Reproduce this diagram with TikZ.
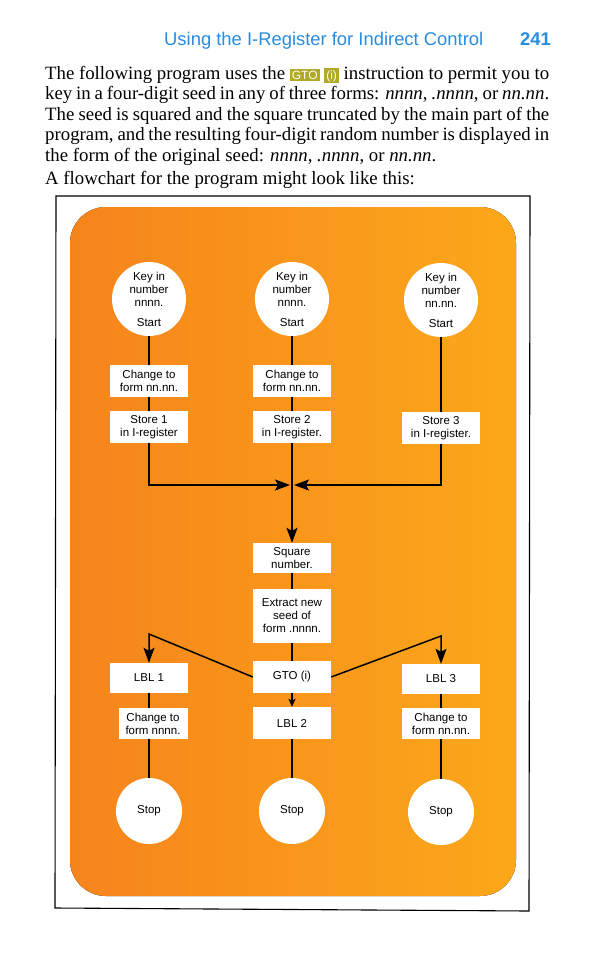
\documentclass[tikz,border=0pt]{standalone}
\usepackage{fontspec}
\setmainfont{Liberation Serif}
\setsansfont{Liberation Sans}
\usetikzlibrary{arrows.meta, positioning, calc}
\definecolor{hdblue}{RGB}{40,140,225}
\definecolor{keyolive}{RGB}{176,170,40}
\definecolor{orL}{RGB}{246,132,28}
\definecolor{orR}{RGB}{252,168,26}
\tikzset{
  sta/.style={circle, fill=white, minimum size=74pt, inner sep=0pt, align=center, font=\sffamily\fontsize{11.5}{13}\selectfont},
  stp/.style={sta, minimum size=66pt},
  prc/.style={fill=white, minimum width=78pt, minimum height=32pt, inner sep=0pt, align=center, font=\sffamily\fontsize{11.5}{13}\selectfont},
  lin/.style={line width=1.5pt},
  tra/.style={lin, -{Stealth[length=15pt, width=11pt, inset=3pt]}},
  trs/.style={lin, -{Stealth[length=8pt, width=7pt, inset=2pt]}},
  ln/.style={inner sep=0pt, anchor=base west, font=\fontsize{18.8}{21}\selectfont}
}
\newcommand{\hpkey}[1]{{\setlength{\fboxsep}{2pt}\colorbox{keyolive}{\textcolor{white}{\sffamily\fontsize{12}{12}\selectfont #1}}}}
\newcommand{\jline}[1]{\makebox[504pt][s]{#1}}

\begin{document}
\begin{tikzpicture}[x=1pt, y=-1pt]
	\useasboundingbox (0,0) rectangle (593,956);
	% running head and text
	\node[ln, text=hdblue, font=\sffamily\fontsize{18.4}{20}\selectfont] (head) at (164,45) {Using the I-Register for Indirect Control};
	\node[ln, anchor=base east, text=hdblue, font=\sffamily\bfseries\fontsize{18.4}{20}\selectfont] (page) at (551,45) {241};
	\node[ln] (t1) at (45,79) {\jline{The following program uses the \hpkey{GTO} \hpkey{(i)} instruction to permit you to}};
	\node[ln] (t2) at (45,99) {\jline{key in a four-digit seed in any of three forms: \textit{nnnn}, \textit{.nnnn}, or \textit{nn.nn}.}};
	\node[ln] (t3) at (45,120) {\jline{The seed is squared and the square truncated by the main part of the}};
	\node[ln] (t4) at (45,140) {\jline{program, and the resulting four-digit random number is displayed in}};
	\node[ln] (t5) at (45,161) {the form of the original seed: \textit{nnnn}, \textit{.nnnn}, or \textit{nn.nn}.};
	\node[ln] (t6) at (45,184) {A flowchart for the program might look like this:};
	% frame and panel
	\draw[line width=1.1pt] (56,196) -- (530,196) -- (529,911) -- (55,908) -- cycle;
	\fill[left color=orL, right color=orR, rounded corners=36pt] (70,207) rectangle (516,896);
	% nodes
	\node[sta] (kyL) at (149,299) {Key in\\number\\nnnn.\\[7pt]Start};
	\node[sta] (kyM) at (292,299) {Key in\\number\\nnnn.\\[7pt]Start};
	\node[sta] (kyR) at (441,300) {Key in\\number\\nn.nn.\\[7pt]Start};
	\node[prc] (chL) at (149,381) {Change to\\form nn.nn.};
	\node[prc] (chM) at (292,381) {Change to\\form nn.nn.};
	\node[prc] (stL) at (149,427) {Store 1\\in I-register};
	\node[prc] (stM) at (292,427) {Store 2\\in I-register.};
	\node[prc] (stR) at (441,428) {Store 3\\in I-register.};
	\coordinate (jn) at (292,485);
	\node[prc, minimum height=30pt] (sq) at (292,558) {Square\\number.};
	\node[prc, minimum height=54pt] (ex) at (292,616) {Extract new\\seed of\\form .nnnn.};
	\node[prc, minimum height=30pt] (lbA) at (149,678) {LBL 1};
	\node[prc] (gto) at (292,677) {GTO (i)};
	\node[prc, minimum height=30pt] (lbC) at (441,679) {LBL 3};
	\node[prc, minimum width=69pt, minimum height=31pt] (cnA) at (153,723.5) {Change to\\form nnnn.};
	\node[prc] (lbB) at (292,723) {LBL 2};
	\node[prc, minimum height=31pt] (cnC) at (441,723.5) {Change to\\form nn.nn.};
	\node[stp] (spL) at (149,811) {Stop};
	\node[stp] (spM) at (292,811) {Stop};
	\node[stp] (spR) at (441,812) {Stop};
	\coordinate (pkL) at (149,634);
	\coordinate (pkR) at (441,636);
	% connectors
	\draw[lin] (kyL) -- (chL);
	\draw[lin] (chL) -- (stL);
	\draw[lin] (kyM) -- (chM);
	\draw[lin] (chM) -- (stM);
	\draw[lin] (kyR) -- (stR);
	\draw[tra, shorten >=2pt] (stL) |- (jn);
	\draw[tra, shorten >=2pt] (stR) |- (jn);
	\draw[tra] (stM) -- (sq);
	\draw[lin] (sq) -- (ex);
	\draw[lin] (ex) -- (gto);
	\draw[tra] (gto.west) -- (pkL) -- (lbA);
	\draw[tra] (gto.east) -- (pkR) -- (lbC);
	\draw[trs] (gto) -- (lbB);
	\draw[lin] (lbA) -- (lbA |- cnA.north);
	\draw[lin] (lbC) -- (cnC);
	\draw[lin] (lbA |- cnA.south) -- (spL);
	\draw[lin] (lbB) -- (spM);
	\draw[lin] (cnC) -- (spR);
\end{tikzpicture}
\end{document}
